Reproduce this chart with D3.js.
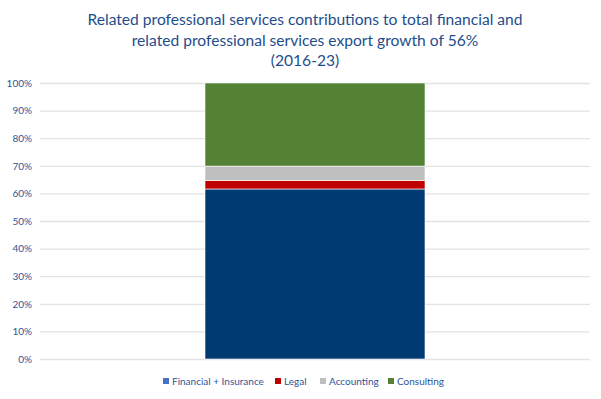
<!DOCTYPE html>
<html>
<head>
<meta charset="utf-8">
<title>Export growth contributions</title>
<style type="text/css">
  body { margin: 0; background: #fff; }
  svg text { font-family: Lato, "Open Sans", sans-serif; }
</style>
<script src="https://cdn.jsdelivr.net/npm/d3@7/dist/d3.min.js"></script>
</head>
<body>
<div id="chart"></div>
<script type="text/javascript">
// values, share of growth in %
var categories = ["2016-23"];
var seriesNames = ["Financial + Insurance", "Legal", "Accounting", "Consulting"];
var financial = [61.6];
var legal = [3.1];
var accounting = [5.2];
var consulting = [30.1];
var yTicks = [0, 10, 20, 30, 40, 50, 60, 70, 80, 90, 100];
var titleLines = ["Related professional services contributions to total financial and",
                  "related professional services export growth of 56%",
                  "(2016-23)"];

var barColours = ["#003a73", "#c00000", "#bfbfbf", "#548235"];
var legendColours = ["#4472c4", "#c00000", "#bfbfbf", "#548235"];

var width = 601, height = 399;
var margin = {top: 83, right: 11, bottom: 40, left: 40};

var svg = d3.select("#chart").append("svg")
  .attr("width", width)
  .attr("height", height);

svg.selectAll("text.title")
  .data(titleLines)
  .enter().append("text")
  .attr("class", "title")
  .attr("x", 305)
  .attr("y", function (d, i) { return 25 + i * 20.5; })
  .attr("text-anchor", "middle")
  .style("font-size", "15.6px")
  .style("fill", "#1f4e8c")
  .text(function (d) { return d; });

var x = d3.scaleBand()
  .domain(categories)
  .range([margin.left, width - margin.right])
  .paddingInner(0.6)
  .paddingOuter(0.3);

var y = d3.scaleLinear()
  .domain([0, 100])
  .range([height - margin.bottom, margin.top]);

// gridlines + tick labels
var yAxis = d3.axisLeft(y)
  .tickValues(yTicks)
  .tickSize(-(width - margin.left - margin.right))
  .tickPadding(8)
  .tickFormat(function (d) { return d + "%"; });

var g = svg.append("g")
  .attr("transform", "translate(" + margin.left + ",0)")
  .call(yAxis);
g.select(".domain").remove();
g.selectAll(".tick line").style("stroke", "#e3e3e3").style("stroke-width", 1.3);
g.selectAll(".tick text")
  .style("font-size", "10px")
  .style("fill", "#2f5597");

// stack the series
var rows = categories.map(function (c, i) {
  return {cat: c, s0: financial[i], s1: legal[i], s2: accounting[i], s3: consulting[i]};
});
var stack = d3.stack().keys(["s0", "s1", "s2", "s3"]);
var layers = stack(rows);

svg.selectAll("g.layer")
  .data(layers)
  .enter().append("g")
  .attr("class", "layer")
  .style("fill", function (d, i) { return barColours[i]; })
  .selectAll("rect")
  .data(function (d) { return d; })
  .enter().append("rect")
  .attr("x", function (d) { return x(d.data.cat); })
  .attr("width", x.bandwidth())
  .attr("y", function (d) { return y(d[1]); })
  .attr("height", function (d) { return y(d[0]) - y(d[1]); })
  .style("stroke", "#ffffff")
  .style("stroke-width", 0.6);

// legend
var legendX = [163, 275, 320, 388];
var legend = svg.selectAll("g.legend")
  .data(seriesNames)
  .enter().append("g")
  .attr("class", "legend")
  .attr("transform", function (d, i) { return "translate(" + legendX[i] + ",385)"; });
legend.append("rect")
  .attr("x", 0).attr("y", -7)
  .attr("width", 6).attr("height", 6)
  .style("fill", function (d, i) { return legendColours[i]; });
legend.append("text")
  .attr("x", 9)
  .attr("y", 0)
  .style("font-size", "10px")
  .style("fill", "#2f5597")
  .text(function (d) { return d; });
</script>
</body>
</html>
